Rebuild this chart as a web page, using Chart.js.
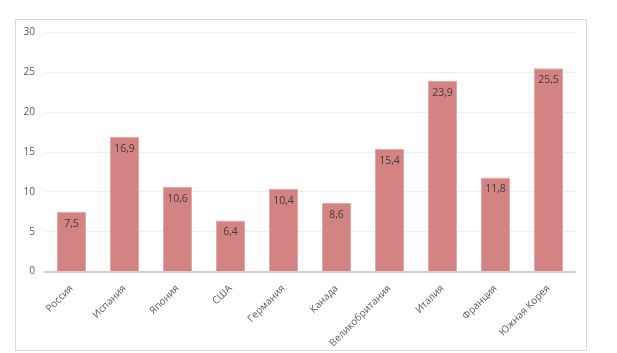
<!DOCTYPE html>
<html>
<head>
<meta charset="utf-8">
<script src="https://cdn.jsdelivr.net/npm/chart.js@4"></script>
<style>
    body { margin: 0; background: #fff; }
    #frame {
        position: absolute; left: 15px; top: 19px;
        width: 570px; height: 330px;
        border: 1px solid #d9d9d9;
    }
</style>
</head>
<body>
<div id="frame"><canvas id="chart" width="570" height="330"></canvas></div>
<script>
const countries = ['Россия', 'Испания', 'Япония', 'США', 'Германия', 'Канада', 'Великобритания', 'Италия', 'Франция', 'Южная Корея'];
const values = [7.5, 16.9, 10.6, 6.4, 10.4, 8.6, 15.4, 23.9, 11.8, 25.5];
const yTicks = [0, 5, 10, 15, 20, 25, 30];

//..labels inside the top of each bar
const barLabels = {
    id: 'barLabels',
    afterDatasetsDraw(chart) {
        const ctx = chart.ctx;
        const meta = chart.getDatasetMeta(0);
        ctx.save();
        ctx.font = '10.5px "Open Sans"';
        ctx.fillStyle = '#404040';
        ctx.textAlign = 'center';
        ctx.textBaseline = 'middle';
        meta.data.forEach((bar, i) => {
            ctx.fillText(values[i].toFixed(1).replace('.', ','), bar.x, bar.y + 12);
        });
        ctx.restore();
    }
};

new Chart(document.getElementById('chart'), {
    type: 'bar',
    data: {
        labels: countries,
        datasets: [{
            data: values,
            backgroundColor: '#d48383',
            borderColor: '#e3a5a5',
            borderWidth: 1,
            barPercentage: 0.55,
            categoryPercentage: 1
        }]
    },
    options: {
        responsive: false,
        animation: false,
        layout: { padding: { left: 0, right: 11, top: 12.5, bottom: 0 } },
        plugins: { legend: { display: false }, tooltip: { enabled: false } },
        scales: {
            x: {
                grid: { display: false },
                border: { color: '#d0d0d0', width: 2 },
                ticks: {
                    minRotation: 45, maxRotation: 45,
                    color: '#595959',
                    font: { family: 'Open Sans', size: 10 },
                    padding: 3
                },
                afterFit(scale) { scale.height = 78.5; }
            },
            y: {
                min: 0, max: 30,
                afterBuildTicks(scale) { scale.ticks = yTicks.map(v => ({ value: v })); },
                grid: {
                    color: ctx => ctx.tick && ctx.tick.value === 0 ? 'rgba(0,0,0,0)' : '#eeeeee',
                    drawTicks: true,
                    tickLength: 8,
                    tickColor: 'rgba(0,0,0,0)'
                },
                border: { display: false },
                ticks: {
                    color: '#595959',
                    font: { family: 'Open Sans', size: 10 },
                    padding: 2
                },
                afterFit(scale) { scale.width = 29; }
            }
        }
    },
    plugins: [barLabels]
});
</script>
</body>
</html>
